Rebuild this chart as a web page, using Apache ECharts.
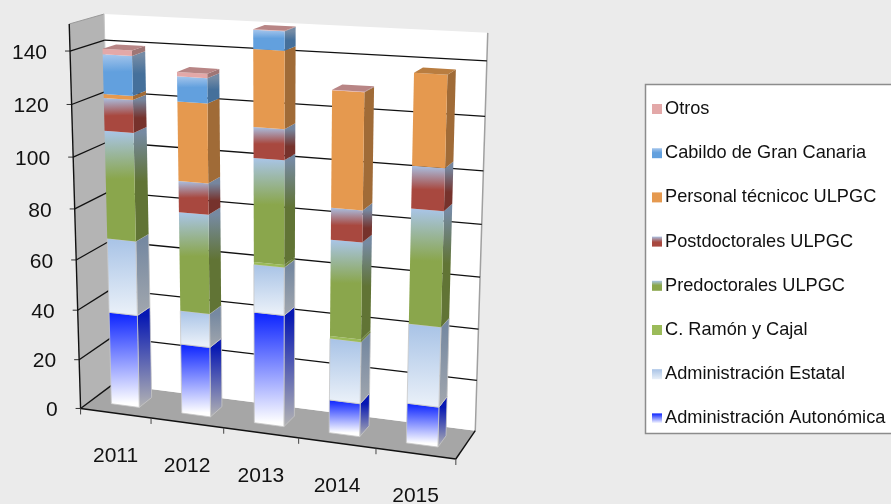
<!DOCTYPE html>
<html><head><meta charset="utf-8">
<style>html,body{margin:0;padding:0;background:#ebebeb}#c{width:891px;height:504px}</style>
<script src="https://cdn.jsdelivr.net/npm/echarts@6/dist/echarts.min.js"></script>
</head><body><div id="c"></div>
<script>
var categories = ['2011','2012','2013','2014','2015'];
var yTicks = [0,20,40,60,80,100,120,140];
var autonomica = [37.5,28,44,13,15.5];
var estatal    = [29.5,13.3,18.5,24,30.5];
var cajal      = [0,0,1,1,0];
var predoc     = [42,38.7,39.5,36.8,43];
var postdoc    = [12.5,12,11.5,12,15.6];
var tecnico    = [1.5,30,28.5,43,33.2];
var cabildo    = [15,9.4,7,0,0];
var otros      = [2,1.6,0.2,0.2,0];
var seriesNames = ['Administración Autonómica','Administración Estatal','C. Ramón y Cajal','Predoctorales ULPGC','Postdoctorales ULPGC','Personal técnicoc ULPGC','Cabildo de Gran Canaria','Otros'];
var seriesValues = [autonomica,estatal,cajal,predoc,postdoc,tecnico,cabildo,otros];
var faceStops = [
 [[0,'#0a22ff'],[1,'#ffffff']],
 [[0,'#a8c3e6'],[1,'#e8eff8']],
 [[0,'#9bbb59'],[1,'#9bbb59']],
 [[0,'#a9c5e8'],[0.45,'#8aa64c'],[1,'#8aa64c']],
 [[0,'#a9c0e2'],[0.55,'#a8483f'],[1,'#a8483f']],
 [[0,'#e5994f'],[1,'#e5994f']],
 [[0,'#a6c6ec'],[0.45,'#62a0de'],[1,'#62a0de']],
 [[0,'#e3a8a8'],[1,'#e3a8a8']]
];
var topColors = ['#aaa','#aaa','#aaa','#aaa','#aaa','#b97d40','#4a7fb0','#b88585'];

// picture-space anchors of the perspective box: [u, value/150, depth, x, y]
var anchors = [
 [0,0,0,81,408],[1,0,0,456,459],[0,1,0,68,24],
 [0,0,1,112,385],[1,0,1,476,430],[0,1,1,105,14],[1,1,1,488,33],
 [0,140/150,0,70,51],[0,100/150,0,73,157],[0,60/150,0,77,260],[0,20/150,0,79.5,359],
 [.2,0,0,152,418],[.4,0,0,223,428],[.6,0,0,298,438],[.8,0,0,376,449],
 [1,140/150,1,487,61],[1,100/150,1,483,171],[1,60/150,1,480,277],[1,20/150,1,476.5,380]
];
function solve(A,b){var n=b.length;for(var i=0;i<n;i++){var m=i;for(var r=i+1;r<n;r++)if(Math.abs(A[r][i])>Math.abs(A[m][i]))m=r;
 var t=A[i];A[i]=A[m];A[m]=t;t=b[i];b[i]=b[m];b[m]=t;
 for(r=i+1;r<n;r++){var f=A[r][i]/A[i][i];for(var c=i;c<n;c++)A[r][c]-=f*A[i][c];b[r]-=f*b[i];}}
 var x=[];for(i=n-1;i>=0;i--){var s=b[i];for(c=i+1;c<n;c++)s-=A[i][c]*x[c];x[i]=s/A[i][i];}return x;}
var H=(function(){var N=[],B=[],i,j;for(i=0;i<11;i++){N.push(new Array(11).fill(0));B.push(0);}
 anchors.forEach(function(a){var u=a[0],v=a[1],d=a[2],x=a[3]/500,y=a[4]/500;
  [[u,v,d,1,0,0,0,0,-x*u,-x*v,-x*d,x],[0,0,0,0,u,v,d,1,-y*u,-y*v,-y*d,y]].forEach(function(r){
   for(i=0;i<11;i++){for(j=0;j<11;j++)N[i][j]+=r[i]*r[j];B[i]+=r[i]*r[11];}});});
 return solve(N,B);})();
function P(u,v,d){var w=H[8]*u+H[9]*v+H[10]*d+1;
 return [500*(H[0]*u+H[1]*v+H[2]*d+H[3])/w,500*(H[4]*u+H[5]*v+H[6]*d+H[7])/w];}

var G={left:100,top:50,width:500,height:300};
function U(px){return (px-G.left)/G.width;}
function V(py){return 1-(py-G.top)/G.height;}
function poly(pts,fill,stroke,z){return {type:'polygon',z2:z||0,shape:{points:pts},style:{fill:fill,stroke:stroke||null,lineWidth:stroke?0.8:0}};}
function line(a,b,c,w,z){return {type:'line',z2:z||1,shape:{x1:a[0],y1:a[1],x2:b[0],y2:b[1]},style:{stroke:c,lineWidth:w}};}
function grad(a,b,stops,f){return new echarts.graphic.LinearGradient(a[0],a[1],b[0],b[1],stops.map(function(s){return {offset:s[0],color:f?shade(s[1],f):s[1]};}),true);}
function shade(c,f){var n=parseInt(c.slice(1),16);function h(x){return ('0'+Math.round(x*f).toString(16)).slice(-2);}
 return '#'+h(n>>16&255)+h(n>>8&255)+h(n&255);}

function frameItem(params,api){
 var ch=[],bw=api.size([1,0])[0];
 ch.push(poly([P(0,0,0),P(1,0,0),P(1,0,1),P(0,0,1)],'#a6a6a6'));
 ch.push(poly([P(0,0,1),P(1,0,1),P(1,1,1),P(0,1,1)],'#ffffff'));
 ch.push(poly([P(0,0,0),P(0,0,1),P(0,1,1),P(0,1,0)],'#b4b4b4'));
 ch.push(line(P(0,1,0),P(0,1,1),'#9a9a9a',1));
 ch.push(line(P(1,0,1),P(1,1,1),'#a0a0a0',1.5));
 ch.push(line(P(0,0,1),P(0,1,1),'#c8c8c8',1));
 yTicks.forEach(function(t){
  var v=V(api.coord([0,t])[1]);
  if(t>0){ch.push(line(P(0,v,1),P(1,v,1),'#111',1.3));}
  if(t>0){ch.push(line(P(0,v,0),P(0,v,1),'#111',1.3));}
  var a=P(0,v,0);
  ch.push(line(a,[a[0]-5,a[1]],'#333',1));
  ch.push({type:'text',z2:3,style:{x:a[0]-23,y:a[1]+2,text:String(t),align:'right',verticalAlign:'middle',font:'21px "Liberation Sans"',fill:'#111'}});
 });
 ch.push(line(P(0,0,0),P(1,0,0),'#111',1.4));
 ch.push(line(P(0,0,0),P(0,1,0),'#111',1.4));
 ch.push(line(P(0,0,0),P(0,0,1),'#111',1.4));
 ch.push(line(P(1,0,0),P(1,0,1),'#111',1.4));
 categories.forEach(function(c,i){
  var cx=api.coord([i,0])[0],u0=U(cx-bw/2),u1=U(cx+bw/2);
  var a=P(u0,0,0);ch.push(line(a,[a[0],a[1]+6],'#444',1));
  if(i===4){var e=P(u1,0,0);ch.push(line(e,[e[0],e[1]+6],'#444',1));}
  var m=P(U(cx),0,0);
  ch.push({type:'text',z2:3,style:{x:m[0],y:m[1]+43,text:c,align:'center',verticalAlign:'middle',font:'21px "Liberation Sans"',fill:'#111'}});
 });
 return {type:'group',children:ch};
}
function barItem(si){return function(params,api){
 var i=api.value(0),lo=api.value(1),hi=api.value(2);
 if(hi<=lo)return null;
 var c=api.coord([i,lo]),c2=api.coord([i,hi]),bw=api.size([1,0])[0];
 var u=U(c[0]),hw=bw/G.width*0.2,v0=V(c[1]),v1=V(c2[1]),d0=.3,d1=.7,ul=u-hw,ur=u+hw;
 var fBL=P(ul,v0,d0),fBR=P(ur,v0,d0),fTL=P(ul,v1,d0),fTR=P(ur,v1,d0),bBR=P(ur,v0,d1),bTR=P(ur,v1,d1),bTL=P(ul,v1,d1);
 var st=faceStops[si],ch=[];
 var edge=si<2?'#c6c6c6':null;
 ch.push(poly([fTR,bTR,bBR,fBR],grad(fTR,fBR,st,0.7),edge));
 ch.push(poly([fTL,fTR,fBR,fBL],grad(fTL,fBL,st),edge));
 var isTop=true;for(var k=si+1;k<seriesValues.length;k++)if(seriesValues[k][i]>0)isTop=false;
 if(isTop)ch.push(poly([fTL,fTR,bTR,bTL],topColors[si]));
 return {type:'group',children:ch};
};}
var series=[{type:'custom',name:'frame',z:1,silent:true,coordinateSystem:'cartesian2d',data:[[0,0]],renderItem:frameItem,clip:false}];
var cum=categories.map(function(){return 0;});
seriesValues.forEach(function(vals,si){
 var st=faceStops[si];
 series.push({type:'custom',name:seriesNames[si],z:2+si,coordinateSystem:'cartesian2d',clip:false,
  itemStyle:{color:new echarts.graphic.LinearGradient(0,0,0,1,st.map(function(s){return {offset:s[0],color:s[1]};}))},
  encode:{x:0,y:[1,2]},
  data:vals.map(function(v,i){var r=[i,cum[i],cum[i]+v];cum[i]+=v;return r;}),
  renderItem:barItem(si)});
});
var chart=echarts.init(document.getElementById('c'),null,{renderer:'canvas'});
chart.setOption({
 backgroundColor:'#ebebeb',animation:false,tooltip:{show:false},
 grid:{left:G.left,top:G.top,width:G.width,height:G.height},
 xAxis:{type:'category',data:categories,show:false},
 yAxis:{type:'value',min:0,max:150,interval:10,show:false},
 graphic:[{type:'rect',z:0,shape:{x:645.5,y:84.5,width:280,height:349},style:{fill:'#fff',stroke:'#8c8c8c',lineWidth:1.5}}],
 legend:{orient:'vertical',left:652,top:98,padding:0,itemGap:22.2,itemWidth:10,itemHeight:10,icon:'rect',z:20,
  data:seriesNames.slice().reverse(),selectedMode:false,
  textStyle:{fontFamily:'"Liberation Sans"',fontSize:18.2,color:'#111',padding:[2,0,0,-2],lineHeight:20}},
 series:series
});
</script></body></html>
